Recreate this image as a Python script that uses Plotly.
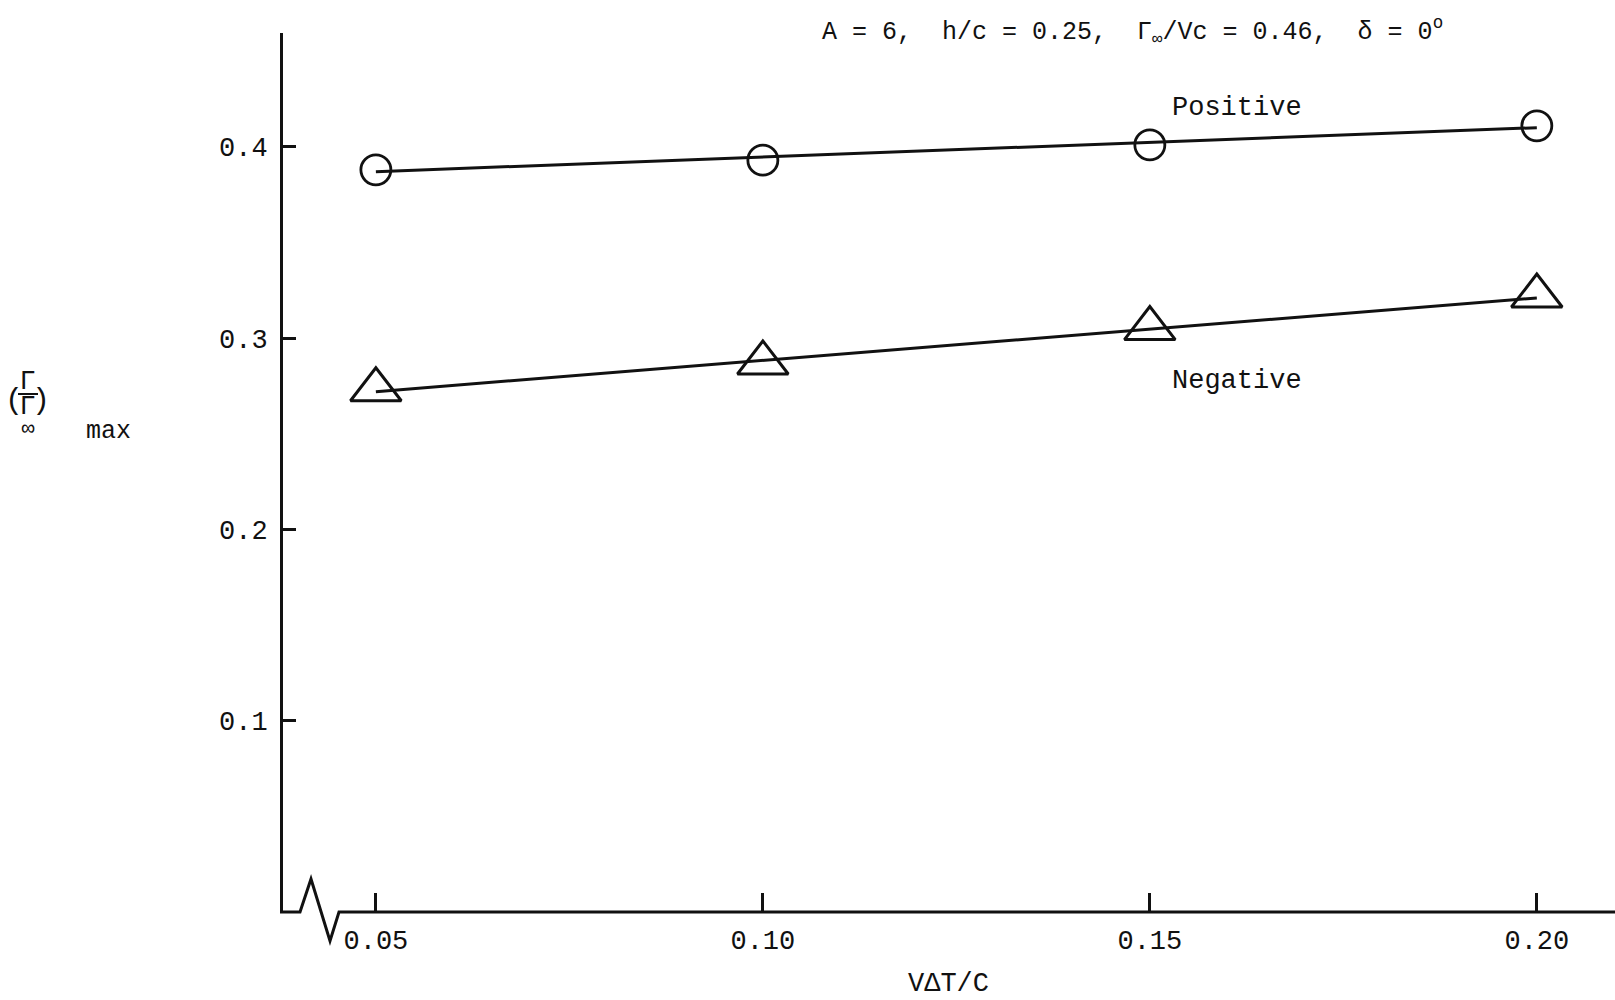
import plotly.graph_objects as go

# ---------------- data ----------------
vdt_c = [0.05, 0.10, 0.15, 0.20]
positive_pts = [0.388, 0.393, 0.401, 0.411]
negative_pts = [0.273, 0.287, 0.305, 0.322]

fit_x = [0.05, 0.20]
positive_fit = [0.387, 0.410]
negative_fit = [0.272, 0.321]

x_ticks = [0.05, 0.10, 0.15, 0.20]
x_ticklabels = ["0.05", "0.10", "0.15", "0.20"]
y_ticks = [0.1, 0.2, 0.3, 0.4]
y_ticklabels = ["0.1", "0.2", "0.3", "0.4"]

title_text = ("A = 6,\u00a0 h/c = 0.25,\u00a0 \u0393<sub>\u221e</sub>/Vc = 0.46,"
              "\u00a0 \u03b4 = 0<sup>o</sup>")

# ---------------- layout geometry ----------------
W, H = 1615, 1000
ML, MR, MT, MB = 283, 0, 33, 88
PW, PH = W - ML - MR, H - MT - MB

def px(xp):
    return (xp - ML) / PW

def py(yp):
    return (H - MB - yp) / PH

FONT = "Liberation Mono, Courier New, monospace"
INK = "#111111"

fig = go.Figure()

# fitted lines
fig.add_trace(go.Scatter(x=fit_x, y=positive_fit, mode="lines",
                         line=dict(color=INK, width=3), showlegend=False))
fig.add_trace(go.Scatter(x=fit_x, y=negative_fit, mode="lines",
                         line=dict(color=INK, width=3), showlegend=False))
# data points
fig.add_trace(go.Scatter(x=vdt_c, y=positive_pts, mode="markers", name="Positive",
                         marker=dict(symbol="circle-open", size=30, color=INK,
                                     line=dict(width=2.8, color=INK)),
                         showlegend=False))
fig.add_trace(go.Scatter(x=vdt_c, y=negative_pts, mode="markers", name="Negative",
                         marker=dict(symbol="triangle-up-open", size=44, color=INK,
                                     line=dict(width=3, color=INK)),
                         showlegend=False))

fig.update_layout(
    width=W, height=H,
    margin=dict(l=ML, r=MR, t=MT, b=MB),
    paper_bgcolor="white", plot_bgcolor="white",
    font=dict(family=FONT, size=27, color=INK),
    xaxis=dict(range=[0.0380, 0.2101], tickvals=x_ticks, ticktext=x_ticklabels,
               ticks="inside", ticklen=19, tickwidth=2.5, tickcolor=INK,
               showline=False, showgrid=False, zeroline=False,
               ticklabelstandoff=9, tickfont=dict(size=27, family=FONT, color=INK)),
    yaxis=dict(range=[0, 0.4595], tickvals=y_ticks, ticktext=y_ticklabels,
               ticks="inside", ticklen=13, tickwidth=2.5, tickcolor=INK,
               showline=True, linewidth=3, linecolor=INK,
               showgrid=False, zeroline=False,
               ticklabelstandoff=7, tickfont=dict(size=27, family=FONT, color=INK)),
)

# x-axis baseline with break symbol
path = (f"M {px(280)},{py(912)} L {px(300)},{py(912)} L {px(311)},{py(879)} "
        f"L {px(330)},{py(941)} L {px(339)},{py(912)} L {px(1615)},{py(912)}")
fig.add_shape(type="path", xref="paper", yref="paper", path=path,
              line=dict(color=INK, width=3), layer="above")

# fraction bar of the y label
fig.add_shape(type="line", xref="paper", yref="paper",
              x0=px(18), x1=px(38), y0=py(394), y1=py(394),
              line=dict(color=INK, width=2))

def note(text, xp, yp, size=27, xanchor="center", w=None, h=None):
    fig.add_annotation(text=text, x=px(xp), y=py(yp), xref="paper", yref="paper",
                       showarrow=False, xanchor=xanchor, yanchor="middle",
                       width=w, height=h, borderpad=0,
                       font=dict(family=FONT, size=size, color=INK))

note(title_text, 1132, 31, size=25)
note("Positive", 1237, 108, size=27)
note("Negative", 1237, 381, size=27)
note("V\u0394T/C", 948, 984, size=27)

# y-axis label (Γ/Γ∞)max  -- stacked fraction built from small boxes
note("(", 14, 401, size=30, w=10, h=34)
note("\u0393", 27, 382, size=27, w=17, h=22)
note("\u0393", 27, 407, size=27, w=17, h=22)
note("\u221e", 28, 429, size=22, w=16, h=13)
note(")", 41, 401, size=30, w=10, h=34)
note("max", 108, 431, size=25)

fig.write_html("out.html")
